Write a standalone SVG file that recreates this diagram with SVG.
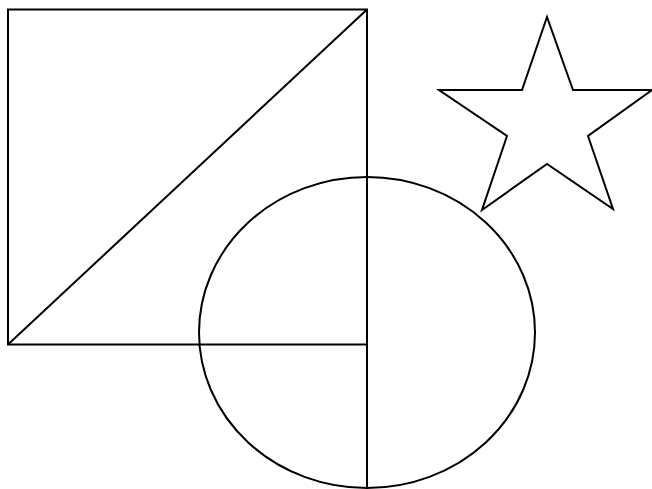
<svg xmlns="http://www.w3.org/2000/svg" width="652" height="489" viewBox="0 0 652 489">
<style>.s{fill:none;stroke:#000;stroke-width:2;stroke-linejoin:miter}</style>
<rect width="652" height="489" fill="#fff"/>
<g id="square"><rect class="s" x="8" y="9.5" width="359" height="335"/></g>
<g id="ellipse"><ellipse class="s" cx="367" cy="332.5" rx="168" ry="155.5"/></g>
<g id="star"><polygon class="s" points="547,17 522,90 439,90 507,136 482,210 547,164 613,209 588,136 652,90 573,90"/></g>
<g id="connectors">
<line class="s" x1="8" y1="344.5" x2="367" y2="9.5"/>
<line class="s" x1="367" y1="9.5" x2="367" y2="489"/>
</g>
</svg>
